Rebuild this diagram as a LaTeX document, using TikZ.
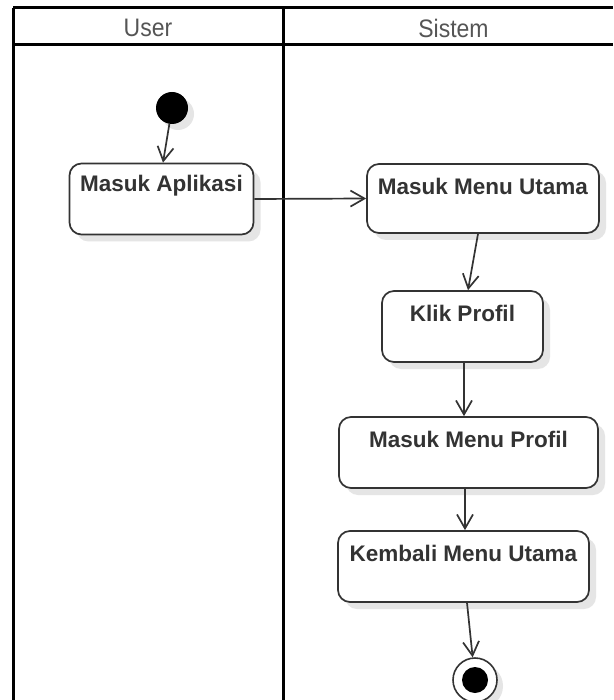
\documentclass[tikz,border=0pt]{standalone}
\usepackage{fontspec}
\setmainfont{Liberation Sans}
\usetikzlibrary{arrows.meta,shadows,calc}
\definecolor{ink}{HTML}{333333}
\definecolor{headtext}{HTML}{555555}
\tikzset{
  lane/.style={draw=black, line width=3pt},
  headlabel/.style={text=headtext, font=\fontsize{23}{27}\selectfont, inner sep=0pt, yscale=1.1},
  act/.style={draw=ink, line width=1.7pt, rounded corners=12pt, fill=white,
    inner sep=0pt,
    drop shadow={shadow xshift=7pt, shadow yshift=-7pt, fill=black!10, opacity=1}},
  actlabel/.style={text=ink, font=\bfseries\fontsize{22.5}{26}\selectfont,
    inner sep=0pt, anchor=center, yshift=-23pt},
  initial/.style={circle, fill=black, minimum size=32pt, inner sep=0pt,
    drop shadow={shadow xshift=6pt, shadow yshift=-6pt, fill=black!10, opacity=1}},
  final/.style={circle, draw=ink, line width=1.6pt, fill=white, minimum size=44pt, inner sep=0pt,
    drop shadow={shadow xshift=6pt, shadow yshift=-6pt, fill=black!10, opacity=1}},
  flow/.style={draw=ink, line width=1.7pt, -{Straight Barb[length=14pt, width=16pt, line width=1.7pt]}},
}
\begin{document}
\begin{tikzpicture}[x=1pt, y=-1pt]
  \useasboundingbox (0,0) rectangle (613,700);
  \fill[white] (0,0) rectangle (613,700);
  \clip (0,0) rectangle (613,700);

  % swimlane frame
  \draw[lane] (13,8) -- (613,8);
  \draw[lane] (13,45) -- (613,45);
  \draw[lane] (13,8) -- (13,700);
  \draw[lane] (283,8) -- (283,700);
  \node[headlabel] (user) at (148,28) {User};
  \node[headlabel] (sistem) at (453.5,28) {Sistem};

  % start and end
  \node[initial] (start) at (172,108) {};
  \node[final] (end) at (475,680) {};
  \node[circle, fill=black, minimum size=26pt, inner sep=0pt] (endcore) at (end) {};

  % activities
  \node[act, minimum width=184pt, minimum height=71pt,
    label={[actlabel]north:Masuk Aplikasi}] (ma) at (161.5,199) {};
  \node[act, minimum width=232pt, minimum height=69pt,
    label={[actlabel]north:Masuk Menu Utama}] (mmu) at (483,198.5) {};
  \node[act, minimum width=161pt, minimum height=71pt,
    label={[actlabel]north:Klik Profil}] (klik) at (462.5,326.5) {};
  \node[act, minimum width=259pt, minimum height=71pt,
    label={[actlabel]north:Masuk Menu Profil}] (mmp) at (468.5,452.5) {};
  \node[act, minimum width=251pt, minimum height=71pt,
    label={[actlabel]north:Kembali Menu Utama}] (kmu) at (463.5,566.5) {};

  % control flow
  \draw[flow] (start) -- ($(ma.north)+(1.5,0)$);
  \draw[flow] (ma.east) -- (mmu.west);
  \draw[flow] ($(mmu.south)+(-5,0)$) -- ($(klik.north)+(5.5,0)$);
  \draw[flow] ($(klik.south)+(1.5,0)$) -- ($(mmp.north)+(-4.5,0)$);
  \draw[flow] ($(mmp.south)+(-3.5,0)$) -- ($(kmu.north)+(1.5,0)$);
  \draw[flow] ($(kmu.south)+(3.5,0)$) -- (end);
\end{tikzpicture}
\end{document}
